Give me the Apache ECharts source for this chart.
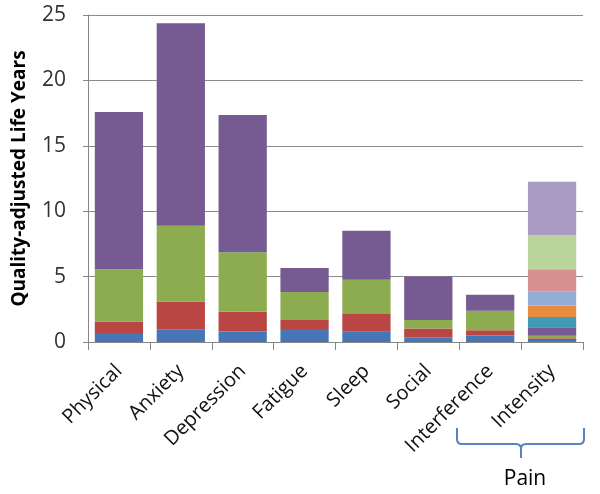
<!DOCTYPE html>
<html><head><meta charset="utf-8">
<script src="https://cdn.jsdelivr.net/npm/echarts@6/dist/echarts.min.js"></script>
<style>html,body{margin:0;padding:0;background:#fff}#c{width:600px;height:494px}</style>
</head><body><div id="c"></div>
<script>
const categories = ['Physical','Anxiety','Depression','Fatigue','Sleep','Social','Interference','Intensity'];
const s1 = [0.69, 0.94, 0.81, 0.99, 0.79, 0.35, 0.50, 0.15];
const s2 = [0.88, 2.16, 1.50, 0.69, 1.35, 0.69, 0.39, 0.13];
const s3 = [4.00, 5.78, 4.55, 2.14, 2.62, 0.64, 1.50, 0.20];
const s4 = [12.01, 15.49, 10.49, 1.83, 3.74, 3.32, 1.22, 0.64];
const s5 = [0, 0, 0, 0, 0, 0, 0, 0.79];
const s6 = [0, 0, 0, 0, 0, 0, 0, 0.89];
const s7 = [0, 0, 0, 0, 0, 0, 0, 1.04];
const s8 = [0, 0, 0, 0, 0, 0, 0, 1.73];
const s9 = [0, 0, 0, 0, 0, 0, 0, 2.60];
const s10 = [0, 0, 0, 0, 0, 0, 0, 4.09];
const yTicks = [0, 5, 10, 15, 20, 25];
const bracketLabel = 'Pain';

const seriesData = [s1,s2,s3,s4,s5,s6,s7,s8,s9,s10];
const colors = ['#4776B7','#B94643','#8DAC50','#765A92','#3E9CB7','#E88D3F','#93AFD6','#D69190','#BBD49B','#A99BC4'];
const FONT = '"Open Sans", sans-serif';
const BR = '#5585C0';
const brStyle = {stroke: BR, lineWidth: 2, fill: null};

const chart = echarts.init(document.getElementById('c'), null, {renderer:'canvas'});
chart.setOption({
  animation: false,
  color: colors,
  grid: {left: 88, right: 17, top: 15, bottom: 152},
  xAxis: {
    type: 'category', data: categories,
    axisLine: {lineStyle: {color: '#868686', width: 1}},
    axisTick: {show: true, length: 8, lineStyle: {color: '#868686'}},
    axisLabel: {rotate: 45, fontSize: 20, color: '#111', fontFamily: FONT, margin: 26, interval: 0}
  },
  yAxis: {
    type: 'value', min: yTicks[0], max: yTicks[yTicks.length-1], interval: 5,
    name: 'Quality-adjusted Life Years', nameLocation: 'middle', nameGap: 59,
    nameTextStyle: {fontSize: 19, fontWeight: 'bold', color: '#000', fontFamily: FONT},
    axisLine: {show: true, lineStyle: {color: '#868686'}},
    axisTick: {show: true, length: 5, lineStyle: {color: '#868686'}},
    axisLabel: {fontSize: 21, color: '#333', fontFamily: FONT, margin: 22},
    splitLine: {lineStyle: {color: '#8c8c8c', width: 1}}
  },
  series: seriesData.map((d, i) => ({
    type: 'bar', stack: 'total', data: d, barCategoryGap: '22%',
    itemStyle: {color: colors[i]}
  })),
  graphic: [
    {type: 'line', shape: {x1: 457, y1: 428, x2: 457, y2: 439}, style: brStyle},
    {type: 'bezierCurve', shape: {x1: 457, y1: 439, x2: 462, y2: 444, cpx1: 457, cpy1: 444}, style: brStyle},
    {type: 'line', shape: {x1: 462, y1: 444, x2: 516, y2: 444}, style: brStyle},
    {type: 'bezierCurve', shape: {x1: 516, y1: 444, x2: 521, y2: 449, cpx1: 521, cpy1: 444}, style: brStyle},
    {type: 'line', shape: {x1: 521, y1: 449, x2: 521, y2: 458}, style: brStyle},
    {type: 'bezierCurve', shape: {x1: 521, y1: 449, x2: 526, y2: 444, cpx1: 521, cpy1: 444}, style: brStyle},
    {type: 'line', shape: {x1: 526, y1: 444, x2: 579, y2: 444}, style: brStyle},
    {type: 'bezierCurve', shape: {x1: 579, y1: 444, x2: 584, y2: 439, cpx1: 584, cpy1: 444}, style: brStyle},
    {type: 'line', shape: {x1: 584, y1: 439, x2: 584, y2: 428}, style: brStyle},
    {type: 'text', x: 525, y: 479, style: {text: bracketLabel, fill: '#000', font: '21px "Open Sans", sans-serif', textAlign: 'center', textVerticalAlign: 'middle'}}
  ]
});
</script></body></html>
